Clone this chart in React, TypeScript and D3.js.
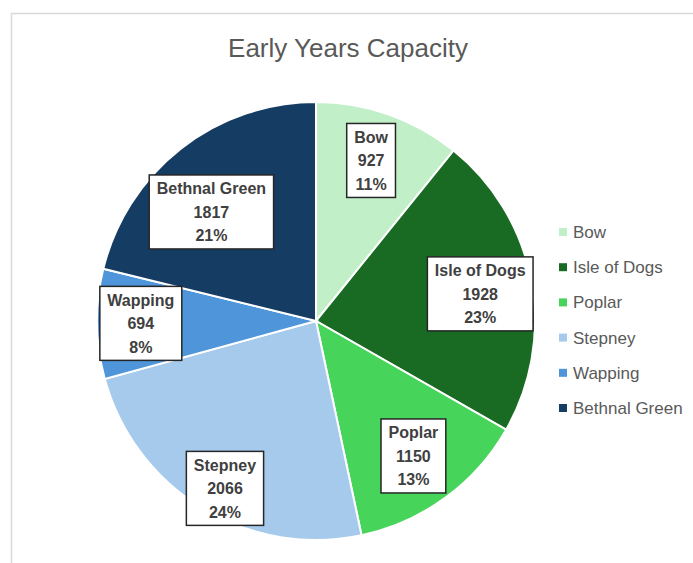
import React from "react";
import * as d3 from "d3";

const categories = ["Bow", "Isle of Dogs", "Poplar", "Stepney", "Wapping", "Bethnal Green"];
const values = [927, 1928, 1150, 2066, 694, 1817];
const percentLabels = ["11%", "23%", "13%", "24%", "8%", "21%"];
const colors = ["#C1F0C8", "#196B24", "#47D45A", "#A6CAEC", "#4E95D9", "#153D64"];
// label placement: radius fraction and angle nudge (degrees) per slice, mimicking Excel best fit
const labelRadius = [0.775, 0.76, 0.76, 0.87, 0.80, 0.69];
const labelAngleNudge = [-0.5, 1.3, 0.3, -2.8, 0, -5.7];

const W = 693;
const H = 563;
const cx = 316;
const cy = 321;
const R = 219;

export default function App() {
  const pie = d3.pie<number>().value((d) => d).sort(null);
  const arcs = pie(values);
  const arcGen = d3.arc<d3.PieArcDatum<number>>().innerRadius(0).outerRadius(R);
  const labelFont = "'Liberation Sans', Arial, sans-serif";

  const measure = (t: string, size: number, weight: string) => {
    const c = document.createElement("canvas").getContext("2d")!;
    c.font = `${weight} ${size}px ${labelFont}`;
    return c.measureText(t).width;
  };

  return (
    <svg width={W} height={H} style={{ position: "absolute", left: 0, top: 0, background: "#fff" }}>
      <rect x={11.5} y={13.5} width={W + 20} height={H + 20} fill="#fff" stroke="#D9D9D9" strokeWidth={1.5} />
      <text x={348} y={57} textAnchor="middle" fontFamily={labelFont} fontSize={26} fill="#595959">
        Early Years Capacity
      </text>
      <g transform={`translate(${cx},${cy})`}>
        {arcs.map((a, i) => (
          <path key={i} d={arcGen(a) || ""} fill={colors[i]} stroke="#fff" strokeWidth={2} />
        ))}
        {arcs.map((a, i) => {
          const mid = (a.startAngle + a.endAngle) / 2 + (labelAngleNudge[i] * Math.PI) / 180;
          const r = R * labelRadius[i];
          const x = Math.sin(mid) * r;
          const y = -Math.cos(mid) * r;
          const lines = [categories[i], String(values[i]), percentLabels[i]];
          const tw = Math.max(...lines.map((l) => measure(l, 16, "bold")));
          const bw = tw + 15;
          const bh = 74;
          return (
            <g key={"l" + i} transform={`translate(${x},${y})`}>
              <rect x={-bw / 2} y={-bh / 2} width={bw} height={bh} fill="#fff" stroke="#262626" strokeWidth={1.5} />
              {lines.map((l, j) => (
                <text
                  key={j}
                  x={0}
                  y={(j - 1) * 23.5 + 6}
                  textAnchor="middle"
                  fontFamily={labelFont}
                  fontWeight="bold"
                  fontSize={16}
                  fill="#404040"
                >
                  {l}
                </text>
              ))}
            </g>
          );
        })}
      </g>
      <g>
        {categories.map((c, i) => (
          <g key={c} transform={`translate(559,${232 + i * 35.2})`}>
            <rect x={0} y={-4} width={8} height={8} fill={colors[i]} />
            <text x={14} y={6} fontFamily={labelFont} fontSize={17} fill="#595959">
              {c}
            </text>
          </g>
        ))}
      </g>
    </svg>
  );
}
